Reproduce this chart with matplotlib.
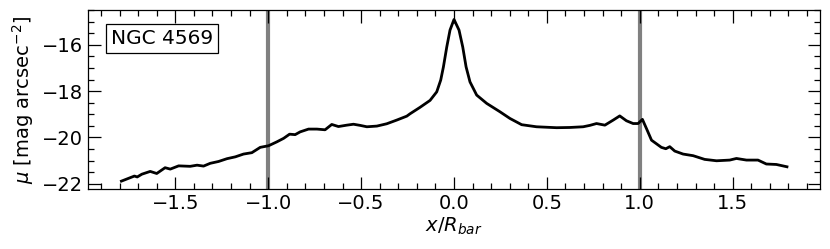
import matplotlib
matplotlib.use("Agg")
import matplotlib.pyplot as plt
from matplotlib.ticker import MultipleLocator

x_rbar = [-1.79, -1.72, -1.705, -1.68, -1.635, -1.60, -1.555, -1.527, -1.482, -1.42,
          -1.383, -1.348, -1.312, -1.267, -1.222, -1.177, -1.133, -1.088, -1.043, -0.998,
          -0.953, -0.917, -0.885, -0.855, -0.828, -0.783, -0.738, -0.694, -0.658, -0.622,
          -0.577, -0.541, -0.505, -0.469, -0.415, -0.362, -0.308, -0.254, -0.237, -0.183,
          -0.129, -0.093, -0.0715, -0.057, -0.039, -0.0215, 0.0, 0.027, 0.047, 0.065,
          0.086, 0.122, 0.176, 0.247, 0.301, 0.364, 0.444, 0.552, 0.624, 0.695,
          0.731, 0.767, 0.812, 0.857, 0.892, 0.928, 0.964, 0.991, 1.014, 1.036,
          1.063, 1.116, 1.140, 1.161, 1.188, 1.233, 1.287, 1.349, 1.413, 1.484,
          1.520, 1.574, 1.636, 1.681, 1.735, 1.792]
mu = [-21.89, -21.67, -21.71, -21.59, -21.47, -21.56, -21.31, -21.37, -21.23, -21.25,
      -21.20, -21.24, -21.12, -21.04, -20.92, -20.84, -20.72, -20.66, -20.43, -20.36,
      -20.19, -20.04, -19.86, -19.88, -19.76, -19.64, -19.64, -19.67, -19.44, -19.53,
      -19.47, -19.43, -19.48, -19.54, -19.51, -19.41, -19.25, -19.08, -18.98, -18.70,
      -18.40, -18.03, -17.52, -16.95, -16.09, -15.36, -14.90, -15.36, -16.09, -16.95,
      -17.60, -18.17, -18.53, -18.89, -19.18, -19.45, -19.54, -19.58, -19.57, -19.54,
      -19.48, -19.40, -19.47, -19.25, -19.07, -19.28, -19.40, -19.40, -19.22, -19.62,
      -20.12, -20.43, -20.49, -20.40, -20.59, -20.72, -20.79, -20.95, -21.01, -20.98,
      -20.91, -20.98, -20.98, -21.15, -21.17, -21.27]
bar_edges = [-1.0, 1.0]
galaxy = "NGC 4569"

fig = plt.figure(figsize=(8.30, 2.49), dpi=100)
ax = fig.add_axes([0.106, 0.241, 0.882, 0.718])

for xv in bar_edges:
    ax.axvline(xv, color="gray", lw=3, zorder=1)
ax.plot(x_rbar, mu, color="black", lw=2, zorder=2, solid_joinstyle="round")

ax.set_xlim(-1.97, 1.97)
ax.set_ylim(-22.23, -14.5)
ax.xaxis.set_major_locator(MultipleLocator(0.5))
ax.xaxis.set_minor_locator(MultipleLocator(0.1))
ax.yaxis.set_major_locator(MultipleLocator(2))
ax.yaxis.set_minor_locator(MultipleLocator(0.5))
ax.tick_params(which="both", direction="in", top=True, right=True, labelsize=14, width=0.9)
ax.tick_params(which="major", length=9)
ax.tick_params(which="minor", length=4)
for s in ax.spines.values():
    s.set_linewidth(0.9)

ax.set_xlabel(r"$x/R_{bar}$", fontsize=14, labelpad=2)
ax.set_ylabel(r"$\mu$ [mag arcsec$^{-2}$]", fontsize=14)

ax.text(0.031, 0.809, galaxy, transform=ax.transAxes, fontsize=14.5, ha="left", va="baseline",
        bbox=dict(boxstyle="square,pad=0.25", fc="white", ec="black", lw=0.9))

fig.savefig("out.png", dpi=100)
